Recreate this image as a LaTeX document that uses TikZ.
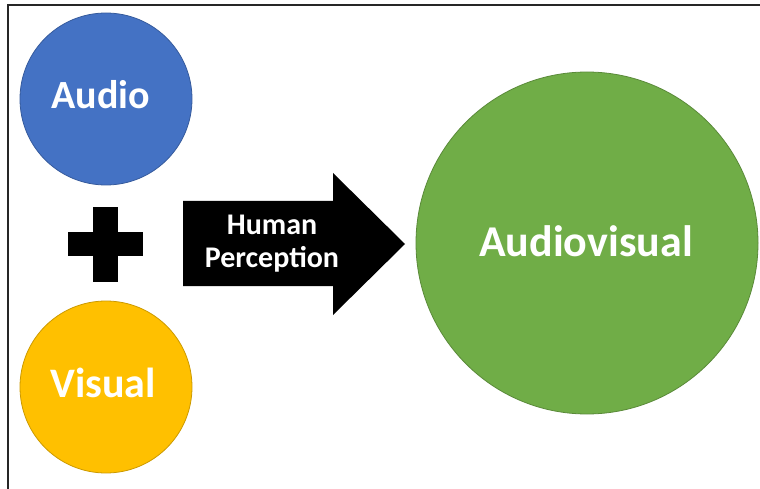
\documentclass[tikz,border=0pt]{standalone}
\usepackage{fontspec}
\setmainfont{Carlito}
\definecolor{audioblue}{HTML}{4472C4}
\definecolor{visualgold}{HTML}{FFC000}
\definecolor{avgreen}{HTML}{70AD47}
\begin{document}
\begin{tikzpicture}[x=1pt,y=-1pt,
  bubble/.style={circle,inner sep=0pt,line width=0.8pt,text=white,font=\bfseries},
  label text/.style={text=white,font=\bfseries,align=center,inner sep=0pt}]
  % canvas and frame
  \fill[white] (0,0) rectangle (760,489);
  \useasboundingbox (0,0) rectangle (760,489);
  \draw[line width=1.5pt,black!85] (8,489) -- (8,5) -- (760,5);

  % input circles
  \node[bubble,fill=audioblue,draw=audioblue!80!black,minimum size=172pt] (audio) at (106,99) {};
  \node[text=white,font=\bfseries\fontsize{40}{48}\selectfont] (audiotext) at (101,95) {Audio};
  \node[bubble,fill=visualgold,draw=visualgold!80!black,minimum size=172pt] (visual) at (106,387) {};
  \node[text=white,font=\bfseries\fontsize{42}{50}\selectfont] (visualtext) at (103,383) {Visual};

  % plus sign
  \fill[black] (93,207) rectangle (118,282);
  \fill[black] (68,232) rectangle (143,256);

  % block arrow
  \fill[black] (183,201) -- (333,201) -- (333,173) -- (405,244) -- (333,315)
               -- (333,286) -- (183,286) -- cycle;
  \node[label text,font=\bfseries\fontsize{30}{33}\selectfont] (perception) at (272,244) {Human\\Perception};

  % result circle
  \node[bubble,fill=avgreen,draw=avgreen!80!black,minimum size=342pt] (av) at (587,243) {};
  \node[text=white,font=\bfseries\fontsize{44}{52}\selectfont] (avtext) at (586,241) {Audiovisual};
\end{tikzpicture}
\end{document}
